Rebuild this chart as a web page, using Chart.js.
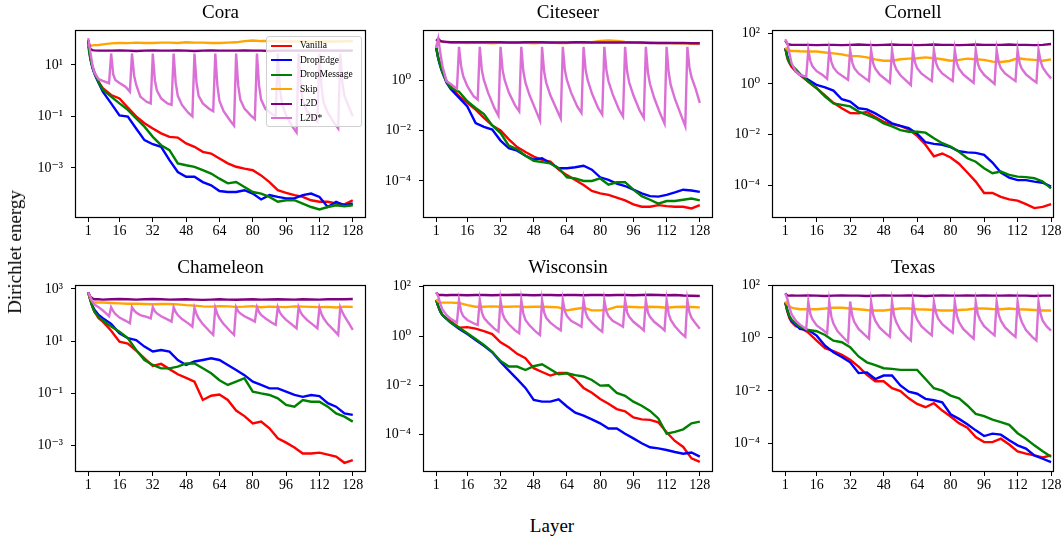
<!DOCTYPE html>
<html>
<head>
<meta charset="utf-8">
<script src="https://cdn.jsdelivr.net/npm/chart.js@4.4.0/dist/chart.umd.min.js"></script>
<style>
  body { margin: 0; width: 1063px; height: 537px; position: relative; overflow: hidden; background: #fff;
         font-family: "Liberation Serif", "DejaVu Serif", serif; }
  canvas { position: absolute; }
  #legend { position: absolute; left: 266px; top: 36px; width: 94px; padding: 1px 0; border: 1px solid #d0d0d0;
            border-radius: 3px; background: rgba(255,255,255,0.8); font-size: 9.5px; color: #000; }
  #legend div { height: 14.5px; line-height: 14.5px; white-space: nowrap; }
  #legend span { display: inline-block; width: 21px; height: 2px; margin: 0 8px 0 4px; vertical-align: middle; }
  .lab { position: absolute; font-size: 19px; color: #000; white-space: nowrap; }
</style>
</head>
<body>
<div id="legend"></div>
<div class="lab" style="left:552px; top:526px; transform: translate(-50%, -50%);">Layer</div>
<div class="lab" style="left:15px; top:252px; transform: translate(-50%, -50%) rotate(-90deg);">Dirichlet energy</div>
<script>
const SERIES = ["Vanilla", "DropEdge", "DropMessage", "Skip", "L2D", "L2D*"];
const COLORS = ["#ff0000", "#0000ff", "#008000", "#ffa500", "#800080", "#da70d6"];
const X_TICKS = [1, 16, 32, 48, 64, 80, 96, 112, 128];

// layers sampled for the five smooth curves
const LAYERS = [1, 2, 3, 4, 6, 8, 12, 16, 20, 24, 28, 32, 36, 40, 44, 48, 52, 56, 60, 64, 68, 72, 76, 80, 84, 88, 92, 96, 100, 104, 108, 112, 116, 120, 124, 128];
// layers sampled for the saw-tooth L2D* curve
const STAR_LAYERS = [1, 2, 3, 4, 6, 8, 11,
  12, 13, 14, 16, 19, 21, 22, 23, 24, 26, 29, 31, 32, 33, 34, 36, 39, 41, 42, 43, 44, 46, 49, 51,
  52, 53, 54, 56, 59, 61, 62, 63, 64, 66, 69, 71, 72, 73, 74, 76, 79, 81, 82, 83, 84, 86, 89, 91,
  92, 93, 94, 96, 99, 101, 102, 103, 104, 106, 109, 111, 112, 113, 114, 116, 119, 121,
  122, 123, 124, 126, 128];

// ---- Cora
const coraVanilla = [90, 20, 8.9, 5.0, 2.2, 1.26,
  0.68, 0.5, 0.22, 0.1, 0.054, 0.034, 0.022, 0.016, 0.015, 8.9e-3,
  6.6e-3, 4.2e-3, 3.6e-3, 2.3e-3, 1.5e-3, 1.1e-3, 9.3e-4, 8.1e-4, 5.1e-4, 2.8e-4,
  1.35e-4, 1.07e-4, 8.7e-5, 7.4e-5, 5.5e-5, 4.8e-5, 4.8e-5, 4.1e-5, 3.8e-5, 5.5e-5];
const coraDropEdge = [90, 18, 7.9, 4.5, 2.0, 0.91,
  0.32, 0.11, 0.098, 0.034, 0.012, 8.3e-3, 6.6e-3, 2e-3, 6.9e-4, 4.5e-4,
  4.5e-4, 2.8e-4, 2.1e-4, 1.26e-4, 1.15e-4, 1.15e-4, 1.35e-4, 1e-4, 5.9e-5, 8.7e-5,
  7.4e-5, 6.5e-5, 6.5e-5, 8.7e-5, 1e-4, 7.4e-5, 3e-5, 4.8e-5, 3.5e-5, 4.1e-5];
const coraDropMessage = [55, 18, 8.3, 4.8, 2.1, 1.1,
  0.59, 0.32, 0.18, 0.083, 0.04, 0.016, 7.6e-3, 4.9e-3, 1.5e-3, 1.26e-3,
  1.1e-3, 8.1e-4, 6e-4, 3.8e-4, 2.5e-4, 2.8e-4, 1.8e-4, 1.15e-4, 1e-4, 7.4e-5,
  4.8e-5, 5.5e-5, 5.5e-5, 4.1e-5, 3e-5, 2.4e-5, 3e-5, 3.5e-5, 3.2e-5, 3.5e-5];
const coraSkip = [56, 55, 58, 59, 60, 63,
  69, 72, 71, 74, 72, 72, 74, 74, 72, 76,
  74, 74, 72, 72, 74, 76, 85, 89, 85, 85,
  83, 83, 83, 82, 81, 81, 82, 82, 83, 85];
const coraL2D = [93, 42, 38, 37, 36, 36,
  36, 37, 36, 35, 36, 37, 36, 36, 37, 36,
  35, 36, 37, 36, 36, 36, 37, 36, 36, 35,
  36, 36, 36, 36, 36, 36, 36, 36, 36, 36];
const coraL2DStar = [110, 32, 10, 5, 2.8, 2.4, 1.95,
  28, 4.3, 2.6, 2.0, 1.4, 0.91,
  28, 4, 1.7, 0.59, 0.37, 0.32,
  28, 2.5, 1.0, 0.5, 0.32, 0.28,
  28, 2.0, 0.63, 0.28, 0.14, 0.1,
  28, 2.0, 0.63, 0.32, 0.2, 0.16,
  28, 1.6, 0.4, 0.16, 0.071, 0.044,
  28, 1.6, 0.45, 0.2, 0.11, 0.079,
  28, 1.6, 0.45, 0.2, 0.126, 0.1,
  28, 1.26, 0.32, 0.11, 0.04, 0.024,
  28, 1.6, 0.4, 0.16, 0.089, 0.063,
  28, 1.4, 0.35, 0.14, 0.056, 0.034,
  28, 2.0, 0.63, 0.25, 0.1];
const coraYTicks = [1e1, 1e-1, 1e-3];
const coraYLabels = ["10¹", "10⁻¹", "10⁻³"];

// ---- Citeseer
const citeseerVanilla = [19.5, 7.8, 4.2, 2.3, 0.91, 0.58,
  0.23, 0.126, 0.068, 0.032, 0.016, 0.01, 4.5e-3, 2.2e-3, 1.4e-3, 9.3e-4,
  6.9e-4, 5.9e-4, 2.8e-4, 1.7e-4, 1.1e-4, 6.9e-5, 4e-5, 3.2e-5, 2.8e-5, 2.2e-5,
  1.7e-5, 1.17e-5, 9.5e-6, 9.5e-6, 1.1e-5, 1e-5, 9.5e-6, 9.5e-6, 8.1e-6, 1.1e-5];
const citeseerDropEdge = [19.5, 7.1, 3.5, 2.0, 0.79, 0.45,
  0.2, 0.09, 0.02, 0.014, 0.011, 4e-3, 2e-3, 1.6e-3, 1e-3, 7.1e-4,
  7.9e-4, 5e-4, 3.2e-4, 3.2e-4, 3.5e-4, 4e-4, 2.8e-4, 1.4e-4, 1.1e-4, 7.9e-5,
  6.3e-5, 4.5e-5, 3.2e-5, 2.5e-5, 2.4e-5, 2.8e-5, 3.5e-5, 4.5e-5, 4.2e-5, 3.7e-5];
const citeseerDropMessage = [19.5, 7.4, 3.8, 2.1, 0.85, 0.5,
  0.35, 0.145, 0.079, 0.045, 0.016, 7.9e-3, 2.5e-3, 1.8e-3, 1e-3, 6.3e-4,
  5.6e-4, 5e-4, 3.2e-4, 1.4e-4, 1.26e-4, 1e-4, 1e-4, 1.26e-4, 7.1e-5, 8.9e-5,
  8.9e-5, 4.5e-5, 2.5e-5, 1.8e-5, 1.26e-5, 1.6e-5, 1.6e-5, 1.8e-5, 2e-5, 1.7e-5];
const citeseerSkip = [19.5, 40, 35, 33, 32, 31,
  31, 30, 31, 30, 29, 30, 31, 31, 30, 29,
  30, 31, 30, 30, 31, 30, 32, 36, 38, 36,
  33, 31, 30, 31, 30, 30, 29, 29, 28, 27];
const citeseerL2D = [36, 45, 36, 34, 33, 32,
  32, 32, 32, 32, 32, 32, 31, 31, 32, 32,
  32, 31, 31, 31, 32, 32, 31, 31, 31, 31,
  31, 31, 31, 30, 30, 30, 30, 30, 29, 29];
const citeseerL2DStar = [19.5, 45, 12, 3.6, 0.91, 0.7, 0.45,
  21, 3.6, 1.45, 0.58, 0.23, 0.17,
  21, 2.5, 1, 0.32, 0.079, 0.039,
  21, 2.5, 1, 0.32, 0.1, 0.058,
  21, 2.2, 0.8, 0.25, 0.063, 0.025,
  21, 2.2, 0.8, 0.25, 0.07, 0.03,
  21, 2.5, 1, 0.32, 0.089, 0.05,
  21, 2.5, 1, 0.3, 0.079, 0.043,
  21, 2.5, 0.9, 0.28, 0.07, 0.036,
  21, 2.2, 0.8, 0.25, 0.063, 0.032,
  21, 2, 0.7, 0.2, 0.045, 0.019,
  21, 2, 0.63, 0.18, 0.04, 0.015,
  21, 3.2, 1.3, 0.45, 0.126];
const citeseerYTicks = [1e0, 1e-2, 1e-4];
const citeseerYLabels = ["10⁰", "10⁻²", "10⁻⁴"];

// ---- Cornell
const cornellVanilla = [26, 10, 6.6, 4.8, 3.1, 2.3,
  1.23, 0.68, 0.35, 0.18, 0.11, 0.071, 0.069, 0.079, 0.05, 0.032,
  0.026, 0.022, 0.016, 8.9e-3, 4e-3, 1.4e-3, 1.8e-3, 1.26e-3, 7.1e-4, 3.2e-4,
  1.4e-4, 5e-5, 5e-5, 3.5e-5, 2.8e-5, 2.5e-5, 1.8e-5, 1.26e-5, 1.4e-5, 1.8e-5];
const cornellDropEdge = [26, 12.6, 7.6, 5.6, 3.5, 2.3,
  1.45, 0.91, 0.74, 0.55, 0.25, 0.2, 0.11, 0.1, 0.069, 0.044,
  0.028, 0.022, 0.018, 0.011, 5e-3, 4.3e-3, 4e-3, 3.2e-3, 2.2e-3, 2e-3,
  1.9e-3, 1.6e-3, 7.9e-4, 3.2e-4, 2e-4, 1.6e-4, 1.6e-4, 1.4e-4, 1.26e-4, 8.9e-5];
const cornellDropMessage = [26, 11, 7.1, 5.6, 3.8, 2.5,
  1.23, 0.68, 0.32, 0.17, 0.15, 0.13, 0.081, 0.06, 0.044, 0.028,
  0.021, 0.015, 0.013, 0.013, 0.012, 7.2e-3, 4.6e-3, 3.4e-3, 2.1e-3, 1.17e-3,
  8.5e-4, 4.7e-4, 3e-4, 3.5e-4, 2.6e-4, 2.2e-4, 2.1e-4, 1.9e-4, 1.4e-4, 7.6e-5];
const cornellSkip = [27, 23, 21, 20, 20, 19.5,
  19, 19, 17.4, 16.2, 14.8, 12.6, 12.6, 11.2, 9.4, 8.3,
  8.3, 9.4, 10, 10.3, 11.2, 10.3, 9.4, 8.3, 8.9, 10,
  9.4, 8.9, 7.6, 7.4, 8.1, 10.3, 9.4, 8.9, 8.3, 9.4];
const cornellL2D = [51, 38, 36, 35, 35, 35,
  35, 34, 35, 35, 34, 35, 36, 35, 34, 35,
  36, 35, 35, 34, 35, 36, 35, 35, 34, 35,
  36, 35, 35, 35, 36, 35, 35, 34, 35, 38];
const cornellL2DStar = [58, 40, 16, 6.6, 3.1, 2.3, 1.95,
  22, 8, 5, 3.2, 2.2, 1.6,
  22, 7.5, 4.5, 2.8, 1.9, 1.45,
  22, 7, 4.2, 2.6, 1.7, 1.3,
  22, 6.5, 4, 2.4, 1.5, 1.1,
  22, 6.3, 3.8, 2.2, 1.3, 0.9,
  22, 7, 4.2, 2.6, 1.7, 1.3,
  22, 7, 4.2, 2.6, 1.7, 1.3,
  22, 6.5, 4, 2.4, 1.5, 1.1,
  22, 6.3, 3.8, 2.3, 1.4, 1.0,
  22, 7, 4.2, 2.6, 1.7, 1.3,
  22, 6.5, 4, 2.4, 1.5, 1.15,
  22, 8, 4.5, 2.6, 1.66];
const cornellYTicks = [1e2, 1e0, 1e-2, 1e-4];
const cornellYLabels = ["10²", "10⁰", "10⁻²", "10⁻⁴"];

// ---- Chameleon
const chameleonVanilla = [740, 380, 210, 135, 76, 56,
  25, 9.5, 8.1, 4.4, 2.2, 1.12, 1.35, 0.85, 0.54, 0.39,
  0.28, 0.056, 0.081, 0.091, 0.056, 0.022, 0.0135, 7.1e-3, 8.3e-3, 4.6e-3,
  1.9e-3, 1.3e-3, 8.5e-4, 5e-4, 5e-4, 5.4e-4, 4.5e-4, 3.8e-4, 2.2e-4, 2.8e-4];
const chameleonDropEdge = [740, 400, 220, 160, 100, 76,
  46, 20, 13, 11, 6.2, 4, 4.6, 4, 1.9, 1.23,
  1.66, 1.9, 2.2, 1.9, 1.23, 0.79, 0.5, 0.28, 0.21, 0.155,
  0.155, 0.117, 0.087, 0.074, 0.087, 0.079, 0.042, 0.031, 0.017, 0.015];
const chameleonDropMessage = [740, 380, 210, 135, 83, 62,
  36, 23, 13, 4.6, 1.9, 1.23, 0.91, 0.91, 1.05, 1.4,
  1.4, 0.91, 0.59, 0.32, 0.21, 0.28, 0.38, 0.117, 0.1, 0.087,
  0.065, 0.036, 0.031, 0.056, 0.048, 0.048, 0.031, 0.017, 0.0129, 8.3e-3];
const chameleonSkip = [740, 450, 330, 300, 300, 300,
  290, 280, 270, 270, 265, 260, 265, 265, 255, 240,
  230, 215, 210, 220, 215, 205, 210, 220, 200, 210,
  205, 200, 215, 210, 205, 200, 205, 195, 210, 205];
const chameleonL2D = [740, 500, 440, 400, 400, 390,
  400, 410, 400, 390, 400, 410, 400, 390, 395, 400,
  390, 380, 390, 400, 390, 385, 395, 400, 390, 395,
  400, 395, 390, 400, 395, 390, 400, 405, 400, 410];
const chameleonL2DStar = [740, 500, 330, 250, 200, 150, 90,
  200, 140, 110, 80, 60, 48,
  200, 150, 125, 100, 85, 74,
  200, 140, 115, 90, 68, 56,
  200, 130, 100, 70, 48, 36,
  190, 110, 75, 45, 25, 17.5,
  190, 110, 75, 45, 25, 17.5,
  200, 140, 115, 90, 68, 56,
  200, 130, 100, 75, 52, 42,
  200, 125, 95, 65, 42, 31,
  200, 125, 95, 65, 42, 31,
  190, 110, 75, 45, 26, 17.5,
  200, 130, 90, 50, 27];
const chameleonYTicks = [1e3, 1e1, 1e-1, 1e-3];
const chameleonYLabels = ["10³", "10¹", "10⁻¹", "10⁻³"];

// ---- Wisconsin
const wisconsinVanilla = [29, 16, 10, 7.1, 5.2, 4,
  2.2, 2.3, 2, 1.6, 1.2, 0.56, 0.35, 0.19, 0.126, 0.05,
  0.035, 0.025, 0.032, 0.032, 0.018, 7.9e-3, 5e-3, 2.8e-3, 1.8e-3, 1.1e-3,
  8.9e-4, 5e-4, 4.2e-4, 4e-4, 3.2e-4, 1.26e-4, 5.6e-5, 3.2e-5, 1.1e-5, 7.9e-6];
const wisconsinDropEdge = [29, 16, 10, 7.1, 5, 3.5,
  2.0, 1.2, 0.69, 0.4, 0.22, 0.089, 0.04, 0.018, 7.9e-3, 2.6e-3,
  2.2e-3, 2.2e-3, 2.7e-3, 1.4e-3, 7.8e-4, 6e-4, 4.2e-4, 2.9e-4, 1.8e-4, 1.8e-4,
  1.1e-4, 7.1e-5, 4.5e-5, 3.1e-5, 2.8e-5, 2.4e-5, 2e-5, 1.7e-5, 1.9e-5, 1.3e-5];
const wisconsinDropMessage = [29, 16, 10, 7.1, 5, 3.5,
  2.2, 1.3, 0.76, 0.44, 0.23, 0.098, 0.058, 0.058, 0.042, 0.06,
  0.072, 0.045, 0.028, 0.031, 0.026, 0.023, 0.0166, 9.8e-3, 0.0102, 5e-3,
  3.8e-3, 2.2e-3, 1.5e-3, 9.3e-4, 4.6e-4, 1.1e-4, 1.3e-4, 1.66e-4, 2.9e-4, 3.4e-4];
const wisconsinSkip = [31, 25, 23, 22.6, 22.6, 22.6,
  22, 18, 15.5, 15.5, 16, 15.5, 15.5, 16, 15, 15.5,
  15.5, 15, 14.5, 11, 12.5, 14, 11, 11, 12, 15.5,
  15.5, 15, 14.5, 15.5, 15, 14, 15, 15.5, 15, 14.5];
const wisconsinL2D = [59, 46, 46, 46, 45, 46,
  46, 45, 46, 46, 45, 46, 46, 47, 46, 45,
  46, 46, 45, 46, 46, 45, 46, 46, 45, 46,
  46, 45, 46, 47, 46, 45, 46, 44, 43, 42];
const wisconsinL2DStar = [59, 40, 20, 12, 7, 5, 3.5,
  29, 10, 6.5, 4.5, 3.3, 2.8,
  29, 9, 5.5, 3.5, 2, 1.5,
  29, 8, 5, 3, 1.7, 1.3,
  29, 8, 4.5, 2.7, 1.5, 1.1,
  29, 9, 5.5, 3.5, 2.2, 1.7,
  29, 10, 6.5, 4.2, 3, 2.4,
  29, 9, 5.5, 3.5, 2, 1.5,
  29, 10, 6.5, 4.2, 3, 2.4,
  29, 9, 6, 3.8, 2.4, 1.7,
  29, 9, 6, 3.8, 2.4, 1.7,
  29, 8, 4.5, 2.5, 1.3, 0.93,
  29, 9, 5.5, 3.2, 2.0];
const wisconsinYTicks = [1e2, 1e0, 1e-2, 1e-4];
const wisconsinYLabels = ["10²", "10⁰", "10⁻²", "10⁻⁴"];

// ---- Texas
const texasVanilla = [22, 10, 5.6, 4, 2.8, 2.5,
  1.6, 0.79, 0.41, 0.32, 0.23, 0.15, 0.083, 0.04, 0.023, 0.023,
  0.0126, 9.8e-3, 5.2e-3, 3.2e-3, 2.4e-3, 3.4e-3, 1.8e-3, 1.07e-3, 6e-4, 4e-4,
  1.8e-4, 1.15e-4, 1.15e-4, 1.55e-4, 9.3e-5, 5.1e-5, 4.2e-5, 3.6e-5, 3e-5, 3.6e-5];
const texasDropEdge = [22, 11, 6.3, 4.5, 3.2, 2.2,
  2, 1.23, 0.51, 0.29, 0.19, 0.12, 0.047, 0.05, 0.028, 0.038,
  0.038, 0.016, 9.3e-3, 7.8e-3, 5e-3, 4.4e-3, 3.7e-3, 1.3e-3, 8.7e-4, 5.4e-4,
  3.2e-4, 1.95e-4, 2.4e-4, 2.2e-4, 1.35e-4, 8.7e-5, 6.5e-5, 3.6e-5, 2.7e-5, 2e-5];
const texasDropMessage = [22, 11, 6.6, 5, 3.5, 2.6,
  2, 1.8, 1.3, 0.79, 0.69, 0.45, 0.2, 0.12, 0.095, 0.072,
  0.068, 0.062, 0.062, 0.062, 0.028, 0.0126, 0.0102, 6.6e-3, 5.2e-3, 2.8e-3,
  1.35e-3, 1.1e-3, 8.1e-4, 6.6e-4, 5.2e-4, 2.5e-4, 1.55e-4, 8.7e-5, 5.2e-5, 3.2e-5];
const texasSkip = [24, 19, 16, 14, 13, 12.3,
  12.3, 12.3, 13, 14, 14, 13, 12.3, 11.5, 11, 11,
  12, 13, 13, 12.3, 12, 11.5, 11, 11, 11.5, 12,
  13, 13, 12.5, 12.3, 13, 12.3, 12, 11.5, 11, 11];
const texasL2D = [49, 40, 40, 41, 40, 40,
  41, 40, 39, 40, 41, 40, 40, 39, 40, 41,
  40, 40, 41, 40, 39, 40, 41, 40, 40, 41,
  40, 41, 40, 40, 41, 40, 40, 39, 40, 40];
const texasL2DStar = [49, 30, 14, 8, 4.5, 3.2, 2.2,
  24, 8, 5, 3, 2, 1.5,
  24, 6.5, 3.5, 1.8, 1, 0.69,
  24, 7, 4, 2.2, 1.3, 0.94,
  24, 7.5, 4.5, 2.5, 1.5, 1.1,
  24, 7, 4, 2, 1.1, 0.81,
  24, 8, 5, 2.8, 1.7, 1.26,
  24, 9, 5.5, 3.3, 2.1, 1.6,
  24, 7, 4, 2.2, 1.3, 0.94,
  24, 8, 5, 2.8, 1.7, 1.26,
  24, 7.5, 4.5, 2.5, 1.5, 1.1,
  24, 7, 4, 2, 1.1, 0.8,
  24, 8, 4.5, 2.7, 1.9];
const texasYTicks = [1e2, 1e0, 1e-2, 1e-4];
const texasYLabels = ["10²", "10⁰", "10⁻²", "10⁻⁴"];

// panel layout: plot box [left, top, right, bottom] in page px, log10 y range, x max
const PANELS = [
  { title: "Cora", box: [75, 30, 366, 218], yLog: [-4.95, 2.36], xMax: 134.35,
    values: [coraVanilla, coraDropEdge, coraDropMessage, coraSkip, coraL2D, coraL2DStar], yTicks: coraYTicks, yLabels: coraYLabels },
  { title: "Citeseer", box: [423, 30, 713, 218], yLog: [-5.47, 1.99], xMax: 134.35,
    values: [citeseerVanilla, citeseerDropEdge, citeseerDropMessage, citeseerSkip, citeseerL2D, citeseerL2DStar], yTicks: citeseerYTicks, yLabels: citeseerYLabels },
  { title: "Cornell", box: [772, 30, 1054, 218], yLog: [-5.29, 2.13], xMax: 129.4,
    values: [cornellVanilla, cornellDropEdge, cornellDropMessage, cornellSkip, cornellL2D, cornellL2DStar], yTicks: cornellYTicks, yLabels: cornellYLabels },
  { title: "Chameleon", box: [75, 285, 366, 472], yLog: [-4.01, 3.15], xMax: 134.35,
    values: [chameleonVanilla, chameleonDropEdge, chameleonDropMessage, chameleonSkip, chameleonL2D, chameleonL2DStar], yTicks: chameleonYTicks, yLabels: chameleonYLabels },
  { title: "Wisconsin", box: [423, 285, 713, 472], yLog: [-5.51, 2.07], xMax: 134.35,
    values: [wisconsinVanilla, wisconsinDropEdge, wisconsinDropMessage, wisconsinSkip, wisconsinL2D, wisconsinL2DStar], yTicks: wisconsinYTicks, yLabels: wisconsinYLabels },
  { title: "Texas", box: [772, 285, 1054, 472], yLog: [-5.07, 2.005], xMax: 129.4,
    values: [texasVanilla, texasDropEdge, texasDropMessage, texasSkip, texasL2D, texasL2DStar], yTicks: texasYTicks, yLabels: texasYLabels },
];

Chart.defaults.font.family = '"Liberation Serif", "DejaVu Serif", serif';
Chart.defaults.color = "#000";

const AXIS_W = 58, TITLE_H = 32, XAXIS_H = 30, PAD_R = 12;

// full box around the plot area, like matplotlib spines
const frame = {
  id: "frame",
  afterDraw(chart) {
    const { ctx, chartArea: a } = chart;
    ctx.save();
    ctx.strokeStyle = "#000";
    ctx.lineWidth = 1.2;
    ctx.strokeRect(a.left + 0.5, a.top + 0.5, a.right - a.left - 1, a.bottom - a.top - 1);
    ctx.restore();
  }
};

PANELS.forEach(p => {
  const [l, t, r, b] = p.box;
  const canvas = document.createElement("canvas");
  canvas.width = AXIS_W + (r - l) + PAD_R;
  canvas.height = TITLE_H + (b - t) + XAXIS_H;
  canvas.style.left = (l - AXIS_W) + "px";
  canvas.style.top = (t - TITLE_H) + "px";
  document.body.insertBefore(canvas, document.getElementById("legend"));

  const datasets = SERIES.map((name, i) => {
    const xs = i === 5 ? STAR_LAYERS : LAYERS;
    return {
      label: name,
      data: xs.map((x, k) => ({ x: x, y: p.values[i][k] })),
      borderColor: COLORS[i],
      borderWidth: 2.4,
      pointRadius: 0,
      fill: false,
      order: SERIES.length - i
    };
  });

  new Chart(canvas, {
    type: "line",
    data: { datasets: datasets },
    options: {
      responsive: false,
      animation: false,
      devicePixelRatio: 1,
      layout: { padding: { right: PAD_R } },
      plugins: {
        legend: { display: false },
        tooltip: { enabled: false },
        title: {
          display: true, text: p.title, fullSize: false, color: "#000",
          font: { size: 19, weight: "normal", lineHeight: "22px" },
          padding: { top: 4, bottom: 6 }
        }
      },
      scales: {
        x: {
          type: "linear", min: -5.35, max: p.xMax, bounds: "data",
          afterFit: s => { s.height = XAXIS_H; },
          afterBuildTicks: s => { s.ticks = X_TICKS.map(v => ({ value: v })); },
          ticks: { autoSkip: false, maxRotation: 0, padding: 1, font: { size: 14 }, callback: v => String(v) },
          grid: { drawOnChartArea: false, tickLength: 4, tickColor: "#000" },
          border: { display: false }
        },
        y: {
          type: "logarithmic", min: Math.pow(10, p.yLog[0]), max: Math.pow(10, p.yLog[1]), bounds: "data",
          afterFit: s => { s.width = AXIS_W; },
          afterBuildTicks: s => { s.ticks = p.yTicks.map(v => ({ value: v })); },
          ticks: { autoSkip: false, padding: 8, font: { size: 14 }, callback: (v, i) => p.yLabels[i] },
          grid: { drawOnChartArea: false, tickLength: 4, tickColor: "#000" },
          border: { display: false }
        }
      }
    },
    plugins: [frame]
  });
});

// legend inside the Cora panel
const legend = document.getElementById("legend");
SERIES.forEach((name, i) => {
  const row = document.createElement("div");
  const line = document.createElement("span");
  line.style.background = COLORS[i];
  row.appendChild(line);
  row.appendChild(document.createTextNode(name));
  legend.appendChild(row);
});
</script>
</body>
</html>
